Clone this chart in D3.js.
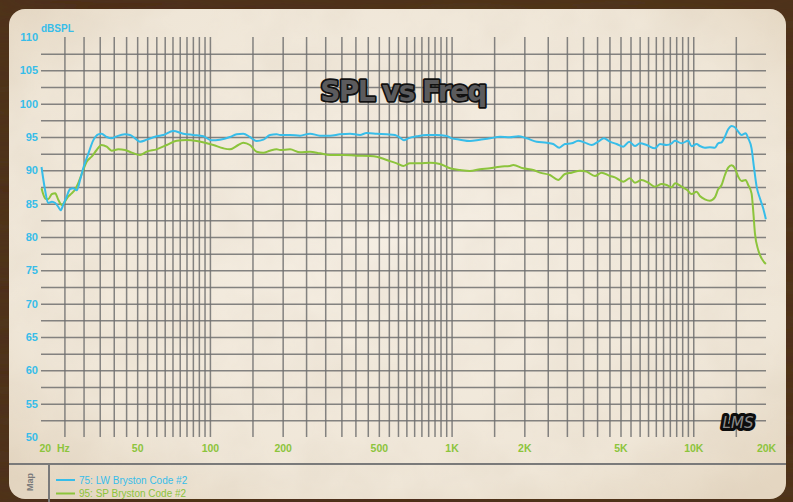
<!DOCTYPE html>
<html>
<head>
<meta charset="utf-8">
<script src="https://cdn.jsdelivr.net/npm/d3@7"></script>
<style>
  html, body { margin: 0; padding: 0; background: #4a2c1a; }
  svg { display: block; }
</style>
</head>
<body>
<div id="chart"></div>
<script>
const lwFreq = [20.1, 20.8, 21.4, 22.2, 22.9, 23.6, 24.1, 24.7, 25.5, 26.4, 27.2, 28.1, 29.0, 29.9, 31.4, 32.9, 34.5, 35.6, 37.4, 39.2,
  41.1, 44.5, 46.7, 49, 51.4, 54.8, 60.2, 64.2, 70.5, 77.6, 85.3, 93.9, 101.7, 110, 121, 129, 137.4, 146.4, 156, 166.3,
  177.2, 188.9, 195, 214.5, 236, 259.5, 285.4, 314, 345, 380, 417.7, 445, 490, 539, 583, 611.5, 635, 662, 717, 788.5,
  867.5, 954, 1000, 1083, 1191, 1310, 1441, 1585, 1743, 1887, 2045, 2249, 2474, 2634, 2790, 2945, 3140, 3342, 3563, 3800,
  4044, 4270, 4520, 4820, 5133, 5435, 5738, 6015, 6413, 6941, 7280, 7763, 8141, 8401, 8955, 9534, 9845, 10325, 10652, 11172,
  11717, 12288, 12680, 13100, 13520, 13950, 14410, 14870, 15350, 15850, 16470, 16880, 17430, 17820, 18290, 18870, 19470, 19980];
const lwSpl = [90.5, 87.0, 85.1, 85.3, 85.1, 84.5, 84.0, 84.8, 86.0, 87.2, 87.3, 87.0, 88.5, 90.3, 92.5, 94.5, 95.4, 95.5, 95.0, 94.8,
  95.1, 95.4, 95.3, 94.8, 94.3, 94.6, 95.1, 95.3, 95.9, 95.5, 95.3, 95.1, 94.5, 94.6, 95.0, 95.4, 95.5, 95.0, 94.4, 94.6,
  95.3, 95.4, 95.3, 95.3, 95.2, 95.5, 95.2, 95.2, 95.4, 95.5, 95.3, 95.6, 95.5, 95.4, 95.3, 94.9, 94.5, 94.8, 95.1, 95.3,
  95.3, 95.15, 94.8, 94.6, 94.4, 94.6, 94.8, 95.05, 94.95, 95.1, 94.8, 94.3, 94.15, 93.95, 93.4, 93.95, 94.05, 94.45, 94.15, 93.8,
  94.3, 94.8, 94.3, 93.95, 93.55, 94.3, 93.65, 94.05, 93.8, 93.3, 93.95, 93.8, 94.05, 94.45, 94.05, 94.45, 93.6, 93.95, 93.65, 93.4,
  93.45, 93.4, 94.05, 94.2, 95.05, 96.15, 96.65, 96.45, 95.8, 95.3, 95.55, 94.8, 93.3, 90.55, 87.55, 85.8, 84.3, 82.65];

const spFreq = [20.1, 20.8, 21.4, 22.2, 22.9, 23.6, 24.4, 25.1, 25.9, 26.8, 27.6, 28.5, 29.9, 30.9, 32.4, 34.0, 35.6, 37.4, 39.2, 41.8,
  44.5, 47.5, 51.4, 54.8, 60.2, 66.3, 72.9, 80.2, 88.2, 95.4, 103.3, 113.6, 121, 131, 137.4, 146.4, 156, 166.3, 177.2, 188.9,
  195, 214.5, 236, 259.5, 285.4, 314, 356, 405, 459.5, 490, 539, 593, 631, 673, 740, 814, 895, 985, 1083, 1191,
  1310, 1441, 1585, 1743, 1800, 1979, 2178, 2321, 2553, 2762, 2945, 3140, 3398, 3621, 3919, 4177, 4520, 4742, 5133, 5470,
  5738, 6113, 6512, 6941, 7396, 7763, 8141, 8401, 8955, 9444, 9845, 10325, 10652, 11172, 11717, 12288, 12680, 13100, 13520, 13950,
  14410, 14870, 15350, 15850, 16470, 16880, 17430, 17740, 18000, 18570, 19180, 19980];
const spSpl = [87.3, 85.8, 85.65, 86.45, 86.55, 85.55, 84.8, 85.3, 86.05, 86.55, 87.05, 88.05, 90.05, 91.3, 92.05, 93.05, 93.8, 93.55, 92.95, 93.15,
  93.05, 92.65, 92.3, 92.8, 93.15, 93.8, 94.45, 94.55, 94.4, 94.15, 93.8, 93.3, 93.15, 93.8, 94.15, 93.8, 92.8, 92.65, 92.95, 93.15,
  93.05, 93.15, 92.7, 92.8, 92.55, 92.3, 92.3, 92.2, 92.15, 92.05, 91.55, 91.05, 90.65, 91.05, 91.05, 91.15, 90.95, 90.3, 90.05, 89.9,
  90.15, 90.3, 90.55, 90.65, 90.8, 90.3, 90.05, 89.65, 89.3, 88.55, 89.45, 89.65, 89.95, 89.8, 89.15, 89.65, 89.15, 88.95, 88.3, 88.8,
  88.15, 88.55, 88.15, 87.55, 87.95, 87.8, 87.45, 88.05, 87.55, 87.05, 86.45, 86.8, 86.15, 85.65, 85.45, 85.95, 87.15, 87.8, 89.3, 90.4,
  90.75, 90.3, 89.05, 88.4, 88.55, 87.8, 86.55, 83.55, 80.55, 78.05, 76.8, 75.95];

const seriesNames = ["75: LW Bryston Code #2", "95: SP Bryston Code #2"];
const seriesColors = ["#37bde9", "#8cc43c"];

const yTicks = [50, 55, 60, 65, 70, 75, 80, 85, 90, 95, 100, 105, 110];
const yGrid = [52.5, 55, 57.5, 60, 62.5, 65, 67.5, 70, 72.5, 75, 77.5, 80, 82.5, 85, 87.5, 90, 92.5, 95, 97.5, 100, 102.5, 105, 107.5];
const xTicks = [20, 50, 100, 200, 500, 1000, 2000, 5000, 10000, 20000];
const xTickLabels = ["20  Hz", "50", "100", "200", "500", "1K", "2K", "5K", "10K", "20K"];
const xGrid = [25, 30, 35, 40, 45, 50, 55, 60, 65, 70, 75, 80, 85, 90, 95, 100, 150, 200,
  250, 300, 350, 400, 450, 500, 550, 600, 650, 700, 750, 800, 850, 900, 950, 1000, 1500, 2000,
  2500, 3000, 3500, 4000, 4500, 5000, 5500, 6000, 6500, 7000, 7500, 8000, 8500, 9000, 9500, 10000, 15000];

const w = 793, h = 502;
const plotLeft = 41, plotRight = 766, plotTop = 37, plotBottom = 437;

const svg = d3.select("#chart").append("svg")
  .attr("width", w).attr("height", h);

const defs = svg.append("defs");

// wood + paper textures
const wood = defs.append("filter").attr("id", "wood").attr("x", 0).attr("y", 0).attr("width", "100%").attr("height", "100%");
wood.append("feTurbulence").attr("type", "fractalNoise").attr("baseFrequency", "0.004 0.06").attr("numOctaves", 3).attr("seed", 4);
wood.append("feColorMatrix").attr("values", "0 0 0 0 0.08  0 0 0 0 0.04  0 0 0 0 0.01  0 0 0 1.1 -0.1");
wood.append("feComposite").attr("in2", "SourceGraphic").attr("operator", "in");

const paper = defs.append("filter").attr("id", "paper").attr("x", 0).attr("y", 0).attr("width", "100%").attr("height", "100%");
paper.append("feTurbulence").attr("type", "fractalNoise").attr("baseFrequency", 0.02).attr("numOctaves", 4).attr("seed", 7);
paper.append("feColorMatrix").attr("values", "0 0 0 0 0.6  0 0 0 0 0.5  0 0 0 0 0.38  0 0 0 0.22 -0.07");
paper.append("feComposite").attr("in2", "SourceGraphic").attr("operator", "in");

const vign = defs.append("radialGradient").attr("id", "vign").attr("cx", "50%").attr("cy", "45%").attr("r", "70%");
vign.append("stop").attr("offset", "0%").attr("stop-color", "#f5eee3");
vign.append("stop").attr("offset", "75%").attr("stop-color", "#efe6d7");
vign.append("stop").attr("offset", "100%").attr("stop-color", "#e4d6c1");

svg.append("rect").attr("width", w).attr("height", h).attr("fill", "#4d2d1a");
svg.append("rect").attr("width", w).attr("height", h).attr("fill", "#000").attr("filter", "url(#wood)");

svg.append("rect").attr("x", 9).attr("y", 9).attr("width", 777).attr("height", 490).attr("rx", 16)
  .attr("fill", "url(#vign)");
svg.append("rect").attr("x", 9).attr("y", 9).attr("width", 777).attr("height", 490).attr("rx", 16)
  .attr("fill", "#000").attr("filter", "url(#paper)");

/* SCALES */
const xScale = d3.scaleLog().domain([20, 20000]).range([plotLeft, plotRight]);
const yScale = d3.scaleLinear().domain([50, 110]).range([plotBottom, plotTop]);

/* GRID */
const gridColor = "#707070";
svg.append("g")
  .attr("transform", "translate(0," + plotBottom + ")")
  .call(d3.axisBottom(xScale).tickValues(xGrid).tickSize(-(plotBottom - plotTop)).tickFormat(""))
  .call(g => g.select(".domain").remove())
  .call(g => g.selectAll("line").attr("stroke", gridColor).attr("stroke-width", 1.5).attr("stroke-opacity", 0.85));

svg.append("g")
  .attr("transform", "translate(" + plotLeft + ",0)")
  .call(d3.axisLeft(yScale).tickValues(yGrid).tickSize(-(plotRight - plotLeft)).tickFormat(""))
  .call(g => g.select(".domain").remove())
  .call(g => g.selectAll("line").attr("stroke", gridColor).attr("stroke-width", 1.5).attr("stroke-opacity", 0.85));

/* AXES LABELS */
svg.append("g")
  .attr("transform", "translate(" + plotLeft + ",0)")
  .call(d3.axisLeft(yScale).tickValues(yTicks).tickSize(0).tickPadding(3))
  .call(g => g.select(".domain").remove())
  .call(g => g.selectAll("text")
    .attr("fill", seriesColors[0])
    .style("font", "bold 11px 'Liberation Sans', Arial, sans-serif"));

svg.append("g")
  .attr("transform", "translate(0," + (plotBottom + 8) + ")")
  .call(d3.axisBottom(xScale).tickValues(xTicks).tickSize(0).tickPadding(0)
    .tickFormat((d, i) => xTickLabels[i]))
  .call(g => g.select(".domain").remove())
  .call(g => g.selectAll("text")
    .attr("fill", seriesColors[1])
    .attr("xml:space", "preserve")
    .style("white-space", "pre")
    .style("font", "bold 10.5px 'Liberation Sans', Arial, sans-serif")
    .attr("text-anchor", (d, i) => i === 0 ? "start" : "middle")
    .attr("dx", (d, i) => i === 0 ? -2 : 0));

svg.append("text")
  .attr("x", plotLeft).attr("y", 32)
  .attr("fill", seriesColors[0])
  .style("font", "bold 10px 'Liberation Sans', Arial, sans-serif")
  .text("dBSPL");

/* LINES */
const series = [
  { name: seriesNames[0], color: seriesColors[0], values: lwFreq.map((f, i) => ({ f: f, v: lwSpl[i] })) },
  { name: seriesNames[1], color: seriesColors[1], values: spFreq.map((f, i) => ({ f: f, v: spSpl[i] })) }
];

const line = d3.line()
  .curve(d3.curveMonotoneX)
  .x(d => xScale(d.f))
  .y(d => yScale(d.v));

// green is drawn first so the blue sits on top
svg.selectAll("path.curve")
  .data(series.slice().reverse())
  .enter().append("path")
  .attr("class", "curve")
  .attr("fill", "none")
  .attr("stroke", d => d.color)
  .attr("stroke-width", 2)
  .attr("stroke-linejoin", "round")
  .attr("d", d => line(d.values));

/* TITLE */
svg.append("text")
  .attr("x", 403).attr("y", 101)
  .attr("text-anchor", "middle")
  .attr("fill", "#5b5b5d")
  .attr("stroke", "#111")
  .attr("stroke-width", 3.5)
  .attr("stroke-linejoin", "round")
  .attr("paint-order", "stroke")
  .style("font", "bold 28px 'DejaVu Sans', sans-serif")
  .style("letter-spacing", "-1.6px")
  .text("SPL vs Freq");

/* LOGO */
svg.append("text")
  .attr("x", 738).attr("y", 428)
  .attr("text-anchor", "middle")
  .attr("fill", "#8a8a8a")
  .attr("stroke", "#0d0d0d")
  .attr("stroke-width", 6)
  .attr("stroke-linejoin", "round")
  .attr("paint-order", "stroke")
  .style("font", "italic 15px 'DejaVu Sans', sans-serif")
  .text("LMS");

/* FOOTER */
svg.append("line").attr("x1", 9).attr("x2", 786).attr("y1", 464).attr("y2", 464)
  .attr("stroke", "#7a7a7a").attr("stroke-width", 2);
svg.append("line").attr("x1", 49).attr("x2", 49).attr("y1", 464).attr("y2", 502)
  .attr("stroke", "#7a7a7a").attr("stroke-width", 2);

svg.append("text")
  .attr("transform", "translate(33,482) rotate(-90)")
  .attr("text-anchor", "middle")
  .attr("fill", "#7a7a7a")
  .style("font", "bold 9px 'Liberation Sans', Arial, sans-serif")
  .text("Map");

const legend = svg.selectAll("g.legend")
  .data(series)
  .enter().append("g")
  .attr("class", "legend")
  .attr("transform", (d, i) => "translate(56," + (480 + i * 13.5) + ")");

legend.append("line")
  .attr("x1", 0).attr("x2", 19)
  .attr("stroke", d => d.color).attr("stroke-width", 2);

legend.append("text")
  .attr("x", 23).attr("y", 3.5)
  .attr("fill", d => d.color)
  .style("font", "10px 'Liberation Sans', Arial, sans-serif")
  .text(d => d.name);
</script>
</body>
</html>
